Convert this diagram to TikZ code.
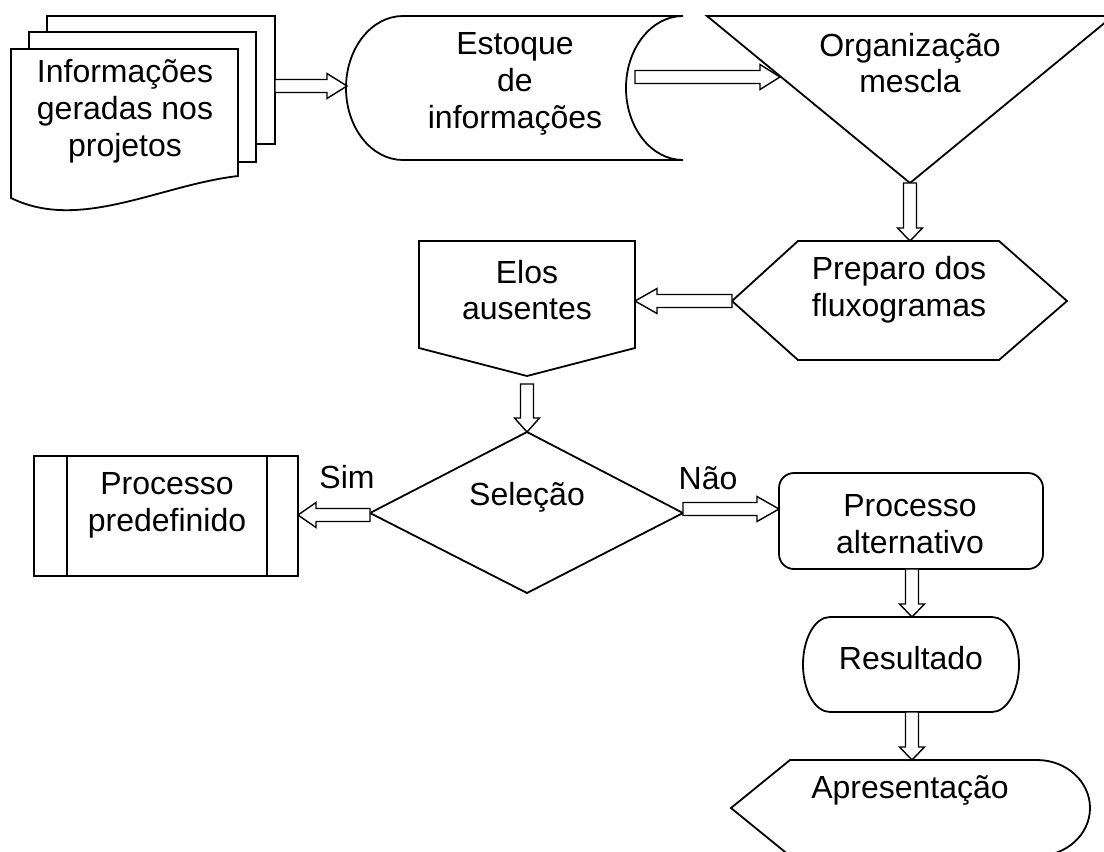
\documentclass[tikz,border=0pt]{standalone}
\usepackage{fontspec}
\setmainfont{Liberation Sans}
\usetikzlibrary{calc}
\tikzset{
  forma/.style={line width=1.8pt,fill=white,line join=miter},
  texto/.style={align=center,inner sep=0pt},
  seta/.style={line width=1.4pt,fill=white}
}
% seta oca de #2 ate #3 (#1 = comprimento da ponta)
\newcommand{\seta}[3][20pt]{%
  \draw[seta] let \p1=(#2), \p2=(#3), \n1={atan2(\y2-\y1,\x2-\x1)}, \n2={veclen(\x2-\x1,\y2-\y1)} in
    [shift={(\p1)},rotate=\n1] (0pt,6.5pt) -- (\n2-#1,6.5pt) -- (\n2-#1,12.5pt) -- (\n2,0pt)
    -- (\n2-#1,-12.5pt) -- (\n2-#1,-6.5pt) -- (0pt,-6.5pt) -- cycle;}
\begin{document}
\begin{tikzpicture}[x=1pt,y=-1pt,font=\fontsize{32pt}{36.8pt}\selectfont]
\useasboundingbox (0,0) rectangle (1104,852);
% documentos
\draw[forma] (47,16) rectangle (275,144);
\draw[forma] (29,32) rectangle (256,162);
\draw[forma] (11,49) -- (238,49) -- (238,176) .. controls (160,185) and (80,232) .. (11,198) -- cycle;
\node[texto] (docs) at (125,111) {Informações\\geradas nos\\projetos};
% estoque
\draw[forma] (403,16) -- (683,16) arc[start angle=90,end angle=270,x radius=57pt,y radius=72pt]
  -- (403,160) arc[start angle=270,end angle=90,x radius=57pt,y radius=72pt] -- cycle;
\node[texto] (estoque) at (515,84) {Estoque\\de\\informações};
% organizacao
\draw[forma] (707,16) -- (1113,16) -- (910,183) -- cycle;
\node[texto] (org) at (910,63) {Organização\\mescla};
% preparo
\draw[forma] (798,241) -- (999,241) -- (1067,301) -- (999,360) -- (798,360) -- (732,301) -- cycle;
\node[texto] (prep) at (899,290) {Preparo dos\\fluxogramas};
% elos
\draw[forma] (419,241) -- (635,241) -- (635,348) -- (527,376) -- (419,348) -- cycle;
\node[texto] (elos) at (527,290) {Elos\\ausentes};
% selecao
\draw[forma] (527,432) -- (683,513) -- (527,593) -- (370,513) -- cycle;
\node[texto] (sel) at (527,497) {Seleção};
\node[texto] (sim) at (347,477) {Sim};
\node[texto] (nao) at (708,478) {Não};
% processo predefinido
\draw[forma] (34,456) rectangle (298,576);
\draw[line width=1.8pt] (67,456) -- (67,576) (267,456) -- (267,576);
\node[texto] (pred) at (167,505) {Processo\\predefinido};
% processo alternativo
\draw[forma,rounded corners=15pt] (779,473) rectangle (1043,569);
\node[texto] (alt) at (910,524) {Processo\\alternativo};
% resultado
\draw[forma] (830,617) -- (992,617) arc[start angle=90,end angle=-90,x radius=27pt,y radius=47.5pt]
  -- (830,712) arc[start angle=270,end angle=90,x radius=27pt,y radius=47.5pt] -- cycle;
\node[texto] (res) at (911,658) {Resultado};
% apresentacao
\draw[forma] (790,760) -- (1037,760) arc[start angle=90,end angle=-90,x radius=53pt,y radius=48pt]
  -- (790,856) -- (731,808) -- cycle;
\node[texto] (apr) at (910,790) {Apresentação};
% pontos de ligacao
\coordinate (docsE) at (275,86);
\coordinate (estW) at (347,86);
\coordinate (estE) at (635,77);
\coordinate (orgW) at (780,77);
\coordinate (orgS) at (910,183);
\coordinate (prepN) at (910,241);
\coordinate (prepW) at (732,301);
\coordinate (elosE) at (635,301);
\coordinate (elosS) at (527,384);
\coordinate (selN) at (527,432);
\coordinate (selW) at (370,515);
\coordinate (predE) at (298,515);
\coordinate (selE) at (683,509);
\coordinate (altW) at (779,509);
\coordinate (altS) at (912,569);
\coordinate (resN) at (912,617);
\coordinate (resS) at (912,712);
\coordinate (aprN) at (912,760);
% setas
\seta{docsE}{estW}
\seta{estE}{orgW}
\seta[13pt]{orgS}{prepN}
\seta[22pt]{prepW}{elosE}
\seta[14pt]{elosS}{selN}
\seta[18pt]{selW}{predE}
\seta[22pt]{selE}{altW}
\seta[13pt]{altS}{resN}
\seta[13pt]{resS}{aprN}
\end{tikzpicture}
\end{document}
